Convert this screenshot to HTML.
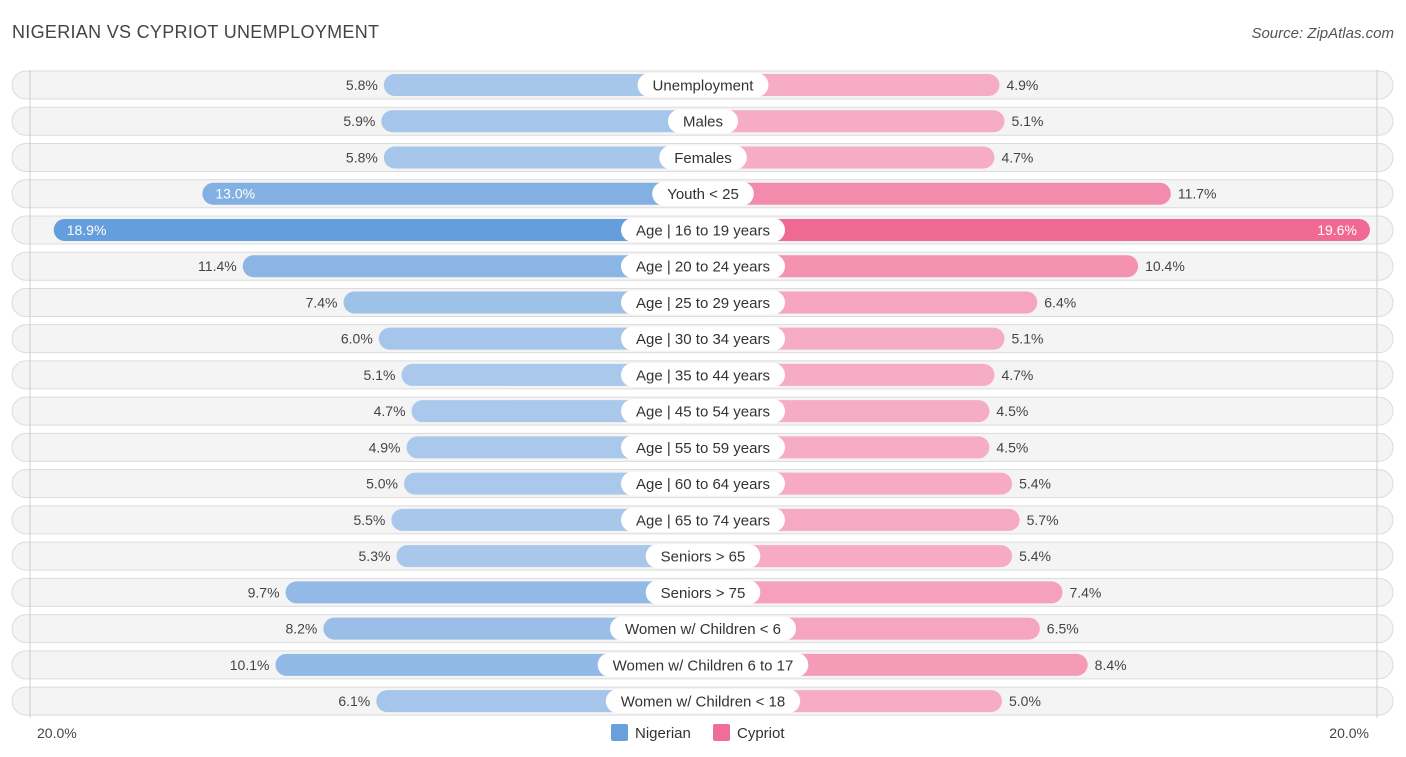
<!DOCTYPE html>
<html><head><meta charset="utf-8"><style>
body{margin:0;background:#fff;font-family:"Liberation Sans",sans-serif;}
#c{position:relative;width:1406px;height:757px;overflow:hidden}
</style></head><body>
<div id="c">
<svg id="s" width="1406" height="757"></svg>
</div>
<script>
const categories=["Unemployment","Males","Females","Youth < 25","Age | 16 to 19 years","Age | 20 to 24 years","Age | 25 to 29 years","Age | 30 to 34 years","Age | 35 to 44 years","Age | 45 to 54 years","Age | 55 to 59 years","Age | 60 to 64 years","Age | 65 to 74 years","Seniors > 65","Seniors > 75","Women w/ Children < 6","Women w/ Children 6 to 17","Women w/ Children < 18"];
const nigerian=[5.8,5.9,5.8,13.0,18.9,11.4,7.4,6.0,5.1,4.7,4.9,5.0,5.5,5.3,9.7,8.2,10.1,6.1];
const cypriot=[4.9,5.1,4.7,11.7,19.6,10.4,6.4,5.1,4.7,4.5,4.5,5.4,5.7,5.4,7.4,6.5,8.4,5.0];
const axisLabels=["20.0%","20.0%"];
const NS="http://www.w3.org/2000/svg",s=document.getElementById('s');
const CX=703,OFF=173,K=25.2,Y0=85,DY=36.24;
function xL(v){return CX-OFF-v*K}
function xR(v){return CX+OFF+v*K}
function yR(i){return Y0+i*DY}
function el(t,a,txt){const e=document.createElementNS(NS,t);for(const k in a)e.setAttribute(k,a[k]);if(txt!=null)e.textContent=txt;s.appendChild(e);return e}
function mix(a,b,t){return 'rgb('+a.map((x,i)=>Math.round(x+(b[i]-x)*t)).join(',')+')'}
let t=el('text',{x:12,y:38,'font-size':18,fill:'#444','letter-spacing':'0.3'},'NIGERIAN VS CYPRIOT UNEMPLOYMENT');

t=el('text',{x:1394,y:38,'font-size':15,fill:'#555','font-style':'italic','text-anchor':'end'},'Source: ZipAtlas.com');

categories.forEach((c,i)=>{
 const y=yR(i);
 let r=el('rect',{x:12,y:y-14,width:1381,height:28,rx:14,fill:'#f4f4f4',stroke:'#dcdcdc','stroke-width':1});
 
});
el('line',{x1:30,y1:70,x2:30,y2:718,stroke:'#ccc','stroke-width':1});
el('line',{x1:1377,y1:70,x2:1377,y2:718,stroke:'#ccc','stroke-width':1});
categories.forEach((c,i)=>{
 const y=yR(i),n=nigerian[i],p=cypriot[i];
 const tn=Math.min(1,Math.max(0,(n-5)/14)),tp=Math.min(1,Math.max(0,(p-5)/14));
 const xl=xL(n);
 let b=el('rect',{x:xl,y:y-11,width:CX-xl,height:22,rx:11,fill:mix([170,200,235],[100,158,220],tn)});
 
 const xr=xR(p);
 b=el('rect',{x:CX,y:y-11,width:xr-CX,height:22,rx:11,fill:mix([246,172,196],[240,104,148],tp)});
 
 const inN=n>12,inP=p>15;
 let v=el('text',{x:inN?xl+13:xl-6,y:y+5,'font-size':14,fill:inN?'#fff':'#444','text-anchor':inN?'start':'end'},n.toFixed(1)+'%');
 
 v=el('text',{x:inP?xr-13:xr+7,y:y+5,'font-size':14,fill:inP?'#fff':'#444','text-anchor':inP?'end':'start'},p.toFixed(1)+'%');
 
 let pl=el('rect',{x:CX-50,y:y-12,width:100,height:24,rx:12,fill:'#fff'});
 
 let lt=el('text',{x:CX,y:y+5.5,'font-size':15,fill:'#333','text-anchor':'middle'},c);
 
 const w=lt.getComputedTextLength()+30;
 pl.setAttribute('x',CX-w/2);pl.setAttribute('width',w);
});
t=el('text',{x:37,y:738,'font-size':14,fill:'#444'},axisLabels[0]);

t=el('text',{x:1369,y:738,'font-size':14,fill:'#444','text-anchor':'end'},axisLabels[1]);

let lg=el('rect',{x:611,y:724,width:17,height:17,rx:2,fill:'#6a9fdc'});

t=el('text',{x:635,y:738,'font-size':15,fill:'#333'},'Nigerian');

lg=el('rect',{x:713,y:724,width:17,height:17,rx:2,fill:'#f06d98'});

t=el('text',{x:737,y:738,'font-size':15,fill:'#333'},'Cypriot');

</script>
</body></html>
